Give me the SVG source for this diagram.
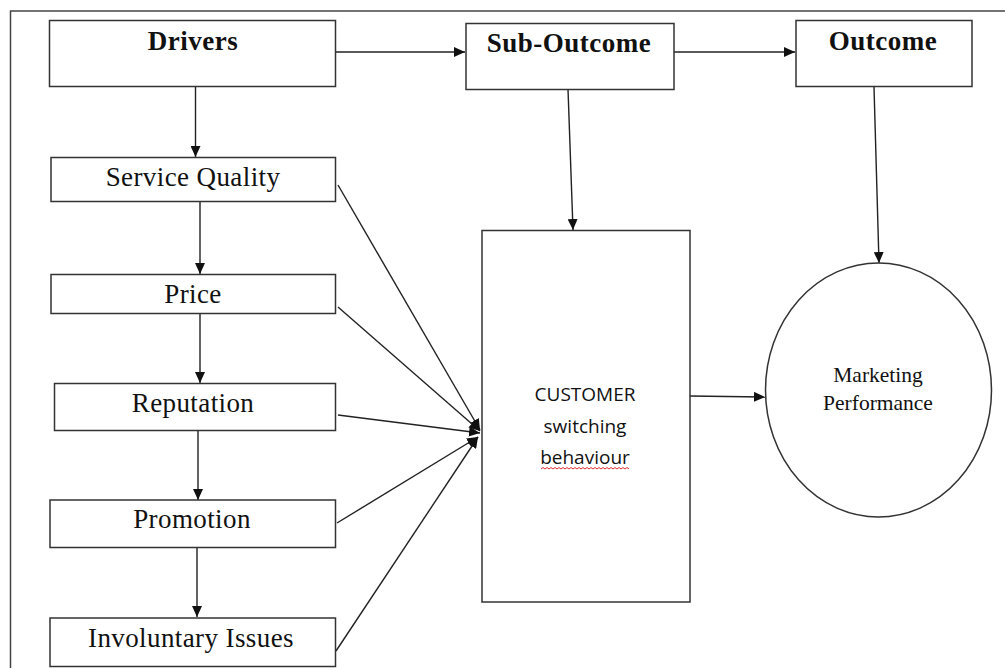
<svg xmlns="http://www.w3.org/2000/svg" width="1005" height="668" viewBox="0 0 1005 668">
  <style>
    .box { fill: #fff; stroke: #333; stroke-width: 1.5; }
    .frame { fill: none; stroke: #444; stroke-width: 1.5; }
    .conn { fill: none; stroke: #222; stroke-width: 1.4; }
    .hd { font-family: "Liberation Serif", "Times New Roman", serif; font-weight: bold; font-size: 27px; letter-spacing: 0.5px; fill: #111; text-anchor: middle; }
    .lb { font-family: "Liberation Serif", "Times New Roman", serif; font-size: 27px; letter-spacing: 0.4px; fill: #111; text-anchor: middle; }
    .sm { font-family: "Liberation Serif", "Times New Roman", serif; font-size: 21.5px; fill: #111; text-anchor: middle; }
    .cs { font-family: "Open Sans", "Liberation Sans", sans-serif; font-size: 19px; fill: #111; text-anchor: middle; }
  </style>
  <defs>
    <marker id="ah" markerUnits="userSpaceOnUse" markerWidth="12" markerHeight="10" refX="11" refY="5" orient="auto">
      <path d="M0,0 L11,5 L0,10 z" fill="#111"/>
    </marker>
  </defs>
  <rect width="1005" height="668" fill="#fff"/>
  <path class="frame" d="M10.5,668 L10.5,11 L1005,11"/>

  <g id="connectors">
    <line class="conn" x1="335" y1="52" x2="465" y2="52" marker-end="url(#ah)"/>
    <line class="conn" x1="674" y1="52" x2="795" y2="52" marker-end="url(#ah)"/>
    <line class="conn" x1="195.5" y1="87" x2="195.5" y2="157" marker-end="url(#ah)"/>
    <line class="conn" x1="200" y1="202" x2="200" y2="274" marker-end="url(#ah)"/>
    <line class="conn" x1="200" y1="314" x2="200" y2="383" marker-end="url(#ah)"/>
    <line class="conn" x1="198" y1="431" x2="198" y2="500" marker-end="url(#ah)"/>
    <line class="conn" x1="197" y1="548" x2="197" y2="617" marker-end="url(#ah)"/>
    <line class="conn" x1="568" y1="89" x2="573" y2="230" marker-end="url(#ah)"/>
    <line class="conn" x1="874" y1="87" x2="879" y2="263" marker-end="url(#ah)"/>
    <line class="conn" x1="690" y1="396" x2="765" y2="397" marker-end="url(#ah)"/>
    <line class="conn" x1="338" y1="185" x2="480" y2="430" marker-end="url(#ah)"/>
    <line class="conn" x1="338" y1="307" x2="480" y2="431" marker-end="url(#ah)"/>
    <line class="conn" x1="338" y1="415" x2="480" y2="433" marker-end="url(#ah)"/>
    <line class="conn" x1="337" y1="523" x2="478" y2="437" marker-end="url(#ah)"/>
    <line class="conn" x1="336" y1="651" x2="478" y2="437" marker-end="url(#ah)"/>
  </g>

  <g id="drivers">
    <rect class="box" x="49.5" y="20.5" width="286" height="66"/>
    <text class="hd" x="193" y="50">Drivers</text>
  </g>
  <g id="sub-outcome">
    <rect class="box" x="466" y="23.5" width="208" height="66"/>
    <text class="hd" x="569" y="52">Sub-Outcome</text>
  </g>
  <g id="outcome">
    <rect class="box" x="796" y="20.5" width="176" height="66"/>
    <text class="hd" x="883" y="49.5">Outcome</text>
  </g>
  <g id="service-quality">
    <rect class="box" x="51" y="157.5" width="284.5" height="44"/>
    <text class="lb" x="193" y="186">Service Quality</text>
  </g>
  <g id="price">
    <rect class="box" x="51" y="274.5" width="284.5" height="39"/>
    <text class="lb" x="193" y="303">Price</text>
  </g>
  <g id="reputation">
    <rect class="box" x="54.5" y="383.5" width="281" height="47"/>
    <text class="lb" x="193" y="412">Reputation</text>
  </g>
  <g id="promotion">
    <rect class="box" x="50" y="500" width="285.5" height="47.5"/>
    <text class="lb" x="192" y="528">Promotion</text>
  </g>
  <g id="involuntary-issues">
    <rect class="box" x="50" y="618" width="285.5" height="48.5"/>
    <text class="lb" x="191" y="647">Involuntary Issues</text>
  </g>
  <g id="customer-switching">
    <rect class="box" x="482" y="230.5" width="208" height="371.5"/>
    <text class="cs" x="585" y="401">CUSTOMER</text>
    <text class="cs" x="585" y="433">switching</text>
    <text class="cs" x="585" y="464">behaviour</text>
    <path d="M541,469 l2,-1.5 l2,1.5 l2,-1.5 l2,1.5 l2,-1.5 l2,1.5 l2,-1.5 l2,1.5 l2,-1.5 l2,1.5 l2,-1.5 l2,1.5 l2,-1.5 l2,1.5 l2,-1.5 l2,1.5 l2,-1.5 l2,1.5 l2,-1.5 l2,1.5 l2,-1.5 l2,1.5 l2,-1.5 l2,1.5 l2,-1.5 l2,1.5 l2,-1.5 l2,1.5 l2,-1.5 l2,1.5 l2,-1.5 l2,1.5 l2,-1.5 l2,1.5 l2,-1.5 l2,1.5 l2,-1.5 l2,1.5 l2,-1.5 l2,1.5 l2,-1.5 l2,1.5 l2,-1.5 l2,1.5" fill="none" stroke="#e03030" stroke-width="1"/>
  </g>
  <g id="marketing-performance">
    <ellipse class="box" cx="878.5" cy="390" rx="113" ry="127"/>
    <text class="sm" x="878" y="382">Marketing</text>
    <text class="sm" x="878" y="410">Performance</text>
  </g>
</svg>
